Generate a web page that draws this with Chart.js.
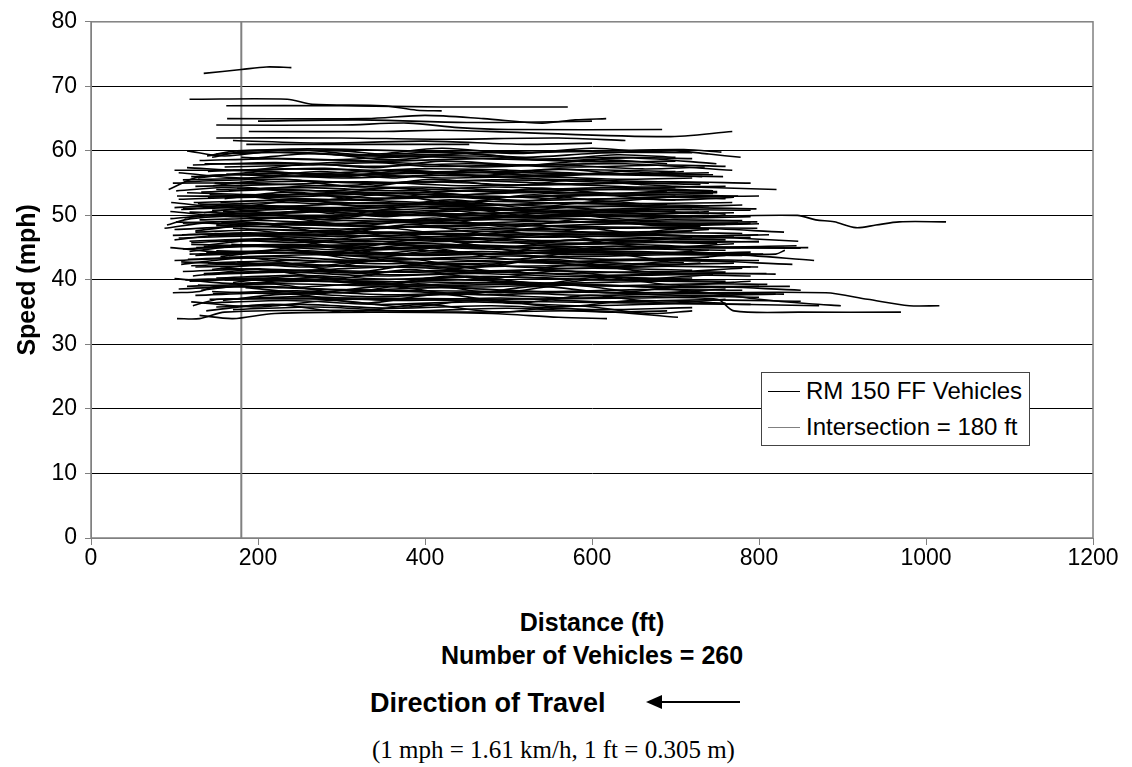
<!DOCTYPE html>
<html>
<head>
<meta charset="utf-8">
<script src="https://cdn.jsdelivr.net/npm/chart.js@4.4.0/dist/chart.umd.min.js"></script>
<style>
  body { margin: 0; background: #fff; font-family: "Liberation Sans", Arial, sans-serif; }
  #wrap { position: relative; width: 1132px; height: 767px; }
  #chart { position: absolute; left: 0; top: 0; }
  .t { position: absolute; white-space: nowrap; color: #000; line-height: 1.15; }
  .b { font-weight: bold; }
  #legend { position: absolute; left: 761px; top: 372px; border: 1px solid #444; background: #fff;
            padding: 0 7px 0 6px; font-size: 24px; }
  #legend div { height: 36px; line-height: 36px; display: flex; align-items: center; }
  #legend span.s { display: inline-block; width: 32px; height: 0; margin-right: 6px; }
</style>
</head>
<body>
<div id="wrap">
  <canvas id="chart" width="1132" height="600"></canvas>
  <div id="legend">
    <div><span class="s" style="border-top:1.5px solid #000"></span>RM 150 FF Vehicles</div>
    <div><span class="s" style="border-top:1.5px solid #808080"></span>Intersection = 180 ft</div>
  </div>
  <div class="t b" style="left:0;width:1184px;top:608px;text-align:center;font-size:25px">Distance (ft)</div>
  <div class="t b" style="left:0;width:1184px;top:641px;text-align:center;font-size:25px">Number of Vehicles = 260</div>
  <div class="t b" style="left:370px;top:688px;font-size:27px">Direction of Travel</div>
  <svg class="t" style="left:640px;top:692px" width="110" height="22">
    <line x1="14" y1="10" x2="100" y2="10" stroke="#000" stroke-width="2"/>
    <polygon points="6,10 22,3 22,17" fill="#000"/>
  </svg>
  <div class="t" style="left:372px;top:736px;font-family:'Liberation Serif','Times New Roman',serif;font-size:25px">(1 mph = 1.61 km/h, 1 ft = 0.305 m)</div>
</div>
<script>
// axis setup
const distMax = 1200;
const speedMax = 80;
const intersectionFt = 180;

// vehicle tracks: [ft, mph, ft, mph, ...]
const tracks = [
  [135,72, 180,72.6, 210,73, 240,72.9],
  [118,68, 235,68, 265,67.2, 350,67, 390,66.3, 420,66.2],
  [162,67, 300,67, 420,66.8, 571,66.8],
  [163,65, 330,65, 400,65.5, 470,65, 540,64.3, 580,64.8, 617,65],
  [150,64, 300,64, 380,64.3, 440,63.6, 500,63.3, 684,63.3],
  [189,63, 350,63, 420,63.2, 500,62.9, 690,62.2, 768,63],
  [186,61, 300,61, 453,61],
  [139,59.2, 175,60, 300,60, 350,59.5, 420,59.8, 520,59, 600,59.6, 700,60, 740,59.5, 778,59],
  [145,59, 178,59.8, 260,59.6, 330,59.2, 460,59.2, 560,58.5, 650,58.9, 749,58],
  [136,58, 250,58, 330,58.3, 400,57.6, 520,57.8, 640,58, 768,57],
  [100,57, 200,57, 280,57.3, 360,56.5, 480,56.7, 620,56.3, 757,56],
  [148,55, 260,55.3, 380,55, 480,55.5, 600,55.2, 700,54.5, 821,54],
  [93,54, 130,56, 200,56.3, 300,55.8, 420,56.2, 550,55.6, 680,55.2, 740,55],
  [103,53, 200,53, 300,53.4, 400,52.8, 560,53, 680,53.2, 775,53],
  [123,52, 230,52.3, 350,51.8, 470,52.2, 600,51.8, 768,52],
  [110,51, 190,51.5, 290,51, 410,51.4, 560,50.8, 700,51.2, 797,51],
  [130,50, 300,50, 500,50, 700,49.8, 846,50, 868,49.3, 890,49, 916,48.1, 940,48.5, 968,49, 1024,49],
  [91,48.5, 120,49.5, 200,50, 300,49.6, 420,49.2, 560,49.5, 680,49, 798,49],
  [88,48, 150,49, 240,48.6, 360,48.2, 480,48.5, 620,48.2, 798,48],
  [109,47, 200,47.2, 320,47.5, 440,47, 600,47.3, 720,46.8, 799,47],
  [140,47, 250,47, 380,47.3, 520,47, 680,47, 720,46.8, 847,46],
  [120,45.5, 220,45.2, 350,45.5, 480,45, 640,45.2, 740,45, 859,45],
  [118,44, 250,44.2, 400,43.8, 560,44.2, 720,44, 820,44, 831,44.6],
  [130,44, 260,44.3, 420,44, 600,44.2, 760,44, 866,43],
  [125,42, 250,42.3, 400,42, 560,42.2, 799,42],
  [135,41, 260,41.5, 380,41.2, 520,41.5, 680,41, 809,41],
  [113,40, 200,40.3, 330,40, 470,40.5, 620,40, 760,39.8],
  [115,39, 230,39.4, 360,39, 500,39.3, 660,39, 837,39],
  [98,38, 130,38.2, 150,39, 300,38.5, 500,38.2, 700,38, 880,38, 930,37, 980,36, 1016,36],
  [122,36, 154,37, 300,37, 450,36.8, 600,36.5, 740,36.3, 872,36],
  [160,40, 300,39.8, 500,39.5, 650,39, 740,38, 800,37, 860,36.3, 898,36],
  [142,37, 300,37.2, 500,37, 650,37.2, 750,37, 770,35.2, 850,35, 970,35],
  [103,34, 130,34, 160,35, 300,35.3, 450,35, 600,35.2, 703,34.2],
  [130,34.5, 170,34, 220,34.8, 350,35, 480,34.8, 560,34.2, 618,34],
  [150,59.5, 240,59.8, 320,59.3, 430,59.5, 520,60, 620,59.8, 720,59.7],
  [175,60, 260,60.3, 380,60, 500,59.7, 610,60, 710,60.2, 755,59.8],
  [130,58.5, 230,58.8, 350,58.4, 470,58.8, 600,58.3, 700,58.4],
  [160,57.5, 260,57.8, 360,58.2, 460,57.5, 560,57.8, 660,57.2, 735,57.5],
  [140,56.8, 230,57.2, 340,57, 450,56.6, 560,57.1, 700,56.8],
  [120,56, 210,56.5, 320,56.2, 430,56.8, 540,56.2, 650,56.5, 745,56.3],
  [170,57, 270,56.5, 390,57.2, 500,57, 620,56.4, 740,56.6],
  [110,55.5, 200,55.8, 310,56.4, 420,55.8, 530,56, 640,55.6, 720,55.8],
  [125,54.5, 230,54.8, 330,55.2, 440,54.6, 560,54.8, 660,54.4, 760,54.5],
  [150,54, 260,54.3, 370,53.8, 480,54.4, 590,54, 700,54.3],
  [98,55, 180,55, 290,54.6, 400,55.2, 520,54.7, 640,55, 730,54.8],
  [165,53.8, 270,54.6, 380,54.2, 490,53.6, 620,54, 750,53.7],
  [115,53.5, 210,53.2, 320,53.6, 430,53.2, 540,53.6, 660,53.3, 745,53.4],
  [140,52.8, 250,53.2, 360,52.6, 470,53, 580,52.5, 690,52.8, 760,52.6],
  [105,52.5, 200,52.8, 300,52.4, 410,52.9, 520,52.3, 630,52.6, 700,52.4],
  [155,52, 250,52.5, 360,52.2, 470,51.6, 580,52, 690,51.7],
  [130,51.6, 230,52, 340,51.5, 440,51.9, 560,51.4, 690,51.6, 740,51.5],
  [100,51.2, 180,51.6, 290,51.2, 400,51.7, 500,51.1, 620,51.4, 720,51.2],
  [145,50.8, 250,51.2, 360,50.6, 470,51, 580,50.5, 700,50.7],
  [118,50.5, 220,50.3, 320,50.8, 440,50.2, 560,50.6, 680,50.3, 770,50.4],
  [160,50.2, 260,50.6, 380,50, 500,50.4, 620,49.8, 740,50],
  [95,49.5, 170,50.2, 280,49.8, 390,50.4, 510,49.7, 640,50, 720,49.8],
  [130,49.3, 230,49.6, 340,49.1, 460,49.5, 570,49, 690,49.3, 780,49.2],
  [110,48.8, 200,49.2, 310,48.7, 420,49, 540,48.4, 660,48.8, 760,48.6],
  [150,48.4, 260,48.8, 370,48.2, 490,48.6, 610,48, 730,48.3],
  [100,47.8, 190,48.3, 300,47.9, 410,48.4, 530,47.8, 650,48.1, 740,47.9],
  [170,48, 270,47.6, 380,48.2, 500,47.7, 620,47.4, 720,47.6],
  [125,47.4, 220,47.8, 330,47.2, 450,47.6, 570,47, 690,47.3, 780,47.2],
  [140,46.8, 240,47.2, 350,46.7, 460,46.4, 580,46.8, 700,46.5, 790,46.6],
  [105,46.5, 200,46.8, 310,46.3, 420,46.7, 540,46.1, 660,46.4, 760,46.2],
  [160,46.2, 260,45.8, 370,46.3, 490,45.8, 610,46.2, 730,45.8, 800,46],
  [120,45.8, 220,46.2, 330,45.6, 440,46, 560,45.5, 680,45.8, 750,45.6],
  [135,45.2, 240,45.5, 350,45, 460,45.4, 580,44.8, 700,45.1, 830,45],
  [110,44.8, 200,45.2, 310,44.6, 420,45, 540,44.5, 660,44.8, 760,44.6],
  [150,44.5, 250,44.2, 360,44.7, 480,44.1, 600,44.5, 720,44.2, 790,44.3],
  [125,43.8, 230,44.2, 340,43.7, 450,44.1, 570,43.6, 690,43.9, 780,43.8],
  [165,43.5, 270,43.9, 380,43.3, 500,43.7, 620,43.2, 740,43.5],
  [100,43, 190,43.4, 300,42.8, 410,43.2, 530,42.7, 650,43, 770,42.9],
  [140,42.6, 240,43, 350,42.5, 470,42.9, 590,42.4, 710,42.7],
  [120,42.2, 220,42.6, 330,42, 440,42.4, 560,41.8, 680,42.1, 790,42],
  [155,41.8, 255,41.5, 360,42, 480,41.4, 600,41.8, 720,41.5],
  [110,41.3, 205,41.7, 315,41.1, 430,41.5, 550,41, 670,41.3, 760,41.2],
  [135,40.8, 235,41.2, 345,40.6, 460,41, 580,40.5, 700,40.8, 790,40.6],
  [150,40.3, 250,40.7, 360,40.1, 480,40.5, 600,40, 720,40.3],
  [118,39.8, 215,40.2, 325,39.6, 440,40, 560,39.5, 680,39.8, 770,39.6],
  [165,39.4, 265,39.8, 375,39.2, 490,39.6, 610,39.1, 730,39.4, 810,39.3],
  [105,38.6, 200,39, 310,38.4, 420,38.8, 540,38.2, 660,38.5, 780,38.4],
  [145,38.2, 245,37.8, 355,38.3, 470,37.7, 590,38.1, 710,37.6, 820,37.8],
  [125,37.6, 225,38, 335,37.4, 450,37.8, 570,37.2, 690,37.5, 800,37.3],
  [160,37, 260,37.4, 370,36.8, 490,37.2, 610,36.6, 730,36.9, 850,36.7],
  [135,36.4, 235,36.8, 345,36.2, 460,36.6, 580,36, 700,36.3, 790,36.2],
  [150,35.8, 250,36.2, 360,35.6, 480,36, 600,35.4, 720,35.7],
  [170,35.4, 270,35.8, 380,35.2, 500,35.6, 620,35, 690,35.2],
  [112,55.2, 215,55.6, 330,55, 450,55.4, 570,54.9, 690,55.2, 790,55],
  [142,53.2, 245,52.9, 355,53.4, 475,52.8, 595,53.2, 715,52.9, 800,53],
  [128,51.8, 228,51.4, 338,52, 458,51.5, 578,51.9, 698,51.4, 780,51.6],
  [158,50.6, 258,51, 368,50.4, 488,50.8, 608,50.2, 728,50.5],
  [102,49, 195,48.6, 305,49.2, 425,48.7, 545,49.1, 665,48.6, 775,48.8],
  [148,47.2, 248,46.8, 358,47.4, 478,46.9, 598,47.3, 718,46.8, 812,47],
  [118,46, 218,46.4, 328,45.9, 448,46.3, 568,45.7, 688,46, 800,45.9],
  [138,44.2, 238,44.6, 348,44, 468,44.4, 588,43.9, 708,44.2, 805,44],
  [108,42.8, 208,42.4, 318,43, 438,42.5, 558,42.9, 678,42.4, 770,42.6],
  [152,41, 252,41.4, 362,40.8, 482,41.2, 602,40.7, 722,41, 820,40.9],
  [128,39.2, 228,38.8, 338,39.4, 458,38.9, 578,39.3, 698,38.8, 800,39],
  [162,56.4, 262,56, 372,56.6, 492,56.1, 612,56.5, 732,56],
  [122,57.8, 222,58.2, 332,57.6, 452,58, 572,57.5, 692,57.8, 760,57.6],
  [175,54.2, 275,53.8, 385,54.4, 505,53.9, 625,54.3, 745,53.8],
  [138,50, 238,49.6, 348,50.2, 468,49.7, 588,50.1, 708,49.6, 790,49.8],
  [98,46.9, 190,47.3, 300,46.7, 420,47.1, 540,46.6, 660,46.9, 770,46.8],
  [168,45.5, 268,45.1, 378,45.7, 498,45.2, 618,45.6, 738,45.1, 845,45.3],
  [116,43.2, 216,43.6, 326,43, 446,43.4, 566,42.9, 686,43.2, 800,43],
  [146,37.9, 246,38.3, 356,37.7, 476,38.1, 596,37.6, 716,37.9, 830,37.8],
  [132,53.6, 232,54, 342,53.4, 462,53.8, 582,53.3, 702,53.6, 750,53.5],
  [108,50.9, 200,51.3, 310,50.7, 430,51.1, 550,50.6, 670,50.9, 790,50.8],
  [156,48.9, 256,48.5, 366,49.1, 486,48.6, 606,49, 726,48.5, 800,48.7],
  [126,45, 226,45.4, 336,44.8, 456,45.2, 576,44.7, 696,45, 850,44.9],
  [180,59, 280,58.6, 390,59.1, 510,58.7, 630,59, 720,58.8],
  [115,57.4, 190,57, 260,58, 340,57.4, 420,58.4, 520,57.8, 610,58.6, 690,58],
  [128,55.8, 210,56.8, 300,56, 380,57, 470,56.2, 560,57.2, 640,56.4, 710,56.8],
  [146,54.6, 230,55.6, 320,54.4, 410,55.6, 500,54.6, 590,55.6, 660,54.8],
  [102,53.8, 180,54.4, 270,53.2, 360,54.2, 450,53.2, 540,54.2, 620,53.4, 690,53.8],
  [160,52.6, 240,53.6, 330,52.4, 420,53.4, 510,52.2, 600,53.2, 690,52.4, 770,52.8],
  [96,52, 170,51.2, 250,52.4, 340,51.2, 430,52.4, 520,51.2, 610,52.2, 660,51.8],
  [135,50.4, 215,51.4, 300,50.2, 390,51.4, 480,50.2, 570,51.2, 660,50.2, 740,50.6],
  [112,49.6, 190,50.6, 280,49.4, 370,50.6, 460,49.4, 550,50.4, 640,49.4, 700,49.8],
  [150,48.6, 230,49.6, 320,48.4, 410,49.6, 500,48.2, 590,49.4, 680,48.4, 790,48.8],
  [125,47.6, 205,48.6, 295,47.2, 385,48.6, 475,47.2, 565,48.4, 655,47.2, 740,47.8],
  [100,46.2, 180,47.2, 270,46, 360,47.2, 450,45.8, 540,47, 630,46, 720,46.6],
  [140,45.4, 220,46.4, 310,45, 400,46.4, 490,45, 580,46.2, 670,45, 770,45.6],
  [118,44.4, 198,45.4, 288,44, 378,45.4, 468,44, 558,45.2, 648,44, 740,44.6],
  [155,43.6, 235,44.6, 325,43.2, 415,44.6, 505,43.2, 595,44.4, 685,43.2, 760,43.8],
  [108,42.4, 188,43.4, 278,42, 368,43.4, 458,42, 548,43.2, 638,42, 730,42.6],
  [145,41.6, 225,42.6, 315,41.2, 405,42.6, 495,41.2, 585,42.4, 675,41.2, 780,41.8],
  [122,40.6, 202,41.6, 292,40.2, 382,41.6, 472,40.2, 562,41.4, 652,40.2, 745,40.8],
  [170,39.6, 250,40.6, 340,39.2, 430,40.6, 520,39.2, 610,40.4, 700,39.2, 790,39.8],
  [132,38.4, 212,39.4, 302,38, 392,39.4, 482,38, 572,39.2, 662,38, 760,38.6],
  [158,36.8, 238,37.8, 328,36.4, 418,37.8, 508,36.4, 598,37.6, 688,36.4, 760,37],
  [138,35.2, 218,36.2, 308,35, 398,36.2, 488,35, 578,36, 668,34.8, 720,35.2],
  [115,60, 160,59.2, 240,60.2, 330,59.4, 420,60.4, 510,59.6, 600,60.4, 660,59.8],
  [190,58.8, 270,59.6, 360,58.6, 450,59.6, 540,58.6, 630,59.4, 700,59],
  [105,56.6, 185,55.8, 275,56.8, 365,55.8, 455,57, 545,56, 635,56.8, 705,56.2],
  [180,53, 260,52.2, 350,53.2, 440,52, 530,53.2, 620,52.2, 700,53],
  [95,50.6, 175,49.8, 265,50.8, 355,49.8, 445,51, 535,49.8, 625,50.8, 760,50.2],
  [185,47.8, 265,47, 355,48, 445,46.8, 535,48, 625,47, 715,48, 830,47.4],
  [95,45, 175,44.2, 265,45.2, 355,44.2, 445,45.4, 535,44.2, 625,45.2, 720,44.6],
  [175,42.8, 255,42, 345,43, 435,41.8, 525,43, 615,42, 705,43, 840,42.4],
  [100,40.2, 180,39.4, 270,40.4, 360,39.4, 450,40.6, 540,39.4, 630,40.4, 700,40],
  [185,38.8, 265,38, 355,39, 445,37.8, 535,39, 625,38, 715,39, 850,38.4],
  [120,36.6, 200,35.8, 290,36.8, 380,35.8, 470,37, 560,35.8, 650,36.8, 760,36.4],
  [150,62, 300,62, 420,61.8, 560,62, 640,61.6],
  [200,64.6, 320,64.8, 450,64.4, 600,64.6],
  [170,61.6, 280,61.2, 400,61.5, 520,61, 600,61.2]
];

function toPoints(arr) {
  const pts = [];
  for (let i = 0; i < arr.length; i += 2) pts.push({ x: arr[i], y: arr[i + 1] });
  return pts;
}

const datasets = tracks.map(t => ({
  data: toPoints(t),
  borderColor: '#000',
  borderWidth: 1.6,
  tension: 0.3,
  pointRadius: 0,
  fill: false
}));

// vertical marker at the intersection
datasets.push({
  data: [{ x: intersectionFt, y: 0 }, { x: intersectionFt, y: speedMax }],
  borderColor: '#808080',
  borderWidth: 2,
  tension: 0,
  pointRadius: 0,
  fill: false
});

// grey frame around the plot area
const plotFrame = {
  id: 'plotFrame',
  beforeDatasetsDraw(chart) {
    const { ctx, chartArea: a } = chart;
    ctx.save();
    ctx.strokeStyle = '#808080';
    ctx.lineWidth = 1.5;
    ctx.strokeRect(a.left, a.top, a.right - a.left, a.bottom - a.top);
    ctx.restore();
  }
};

Chart.defaults.font.family = '"Liberation Sans", Arial, sans-serif';

new Chart(document.getElementById('chart').getContext('2d'), {
  type: 'line',
  data: { datasets },
  plugins: [plotFrame],
  options: {
    responsive: false,
    animation: false,
    devicePixelRatio: 1,
    layout: { padding: { top: 19, right: 39, left: 0, bottom: 0 } },
    plugins: { legend: { display: false }, tooltip: { enabled: false } },
    scales: {
      x: {
        type: 'linear', min: 0, max: distMax,
        ticks: { stepSize: 200, color: '#000', font: { size: 23 }, padding: 0, maxRotation: 0,
                 callback: v => String(v) },
        grid: { drawOnChartArea: false, tickLength: 7, tickColor: '#808080' },
        border: { color: '#808080' },
        afterFit(s) { s.height = 62; }
      },
      y: {
        min: 0, max: speedMax,
        ticks: { stepSize: 10, color: '#000', font: { size: 23 }, padding: 8 },
        grid: {
          color: c => (c.tick.value === 0 || c.tick.value === speedMax) ? 'rgba(0,0,0,0)' : '#000',
          tickLength: 6, tickColor: '#808080'
        },
        border: { color: '#808080' },
        title: { display: true, text: 'Speed (mph)', color: '#000', font: { size: 25, weight: 'bold' }, padding: { top: 13, bottom: 0 } },
        afterFit(s) { s.width = 91; }
      }
    }
  }
});
</script>
</body>
</html>
